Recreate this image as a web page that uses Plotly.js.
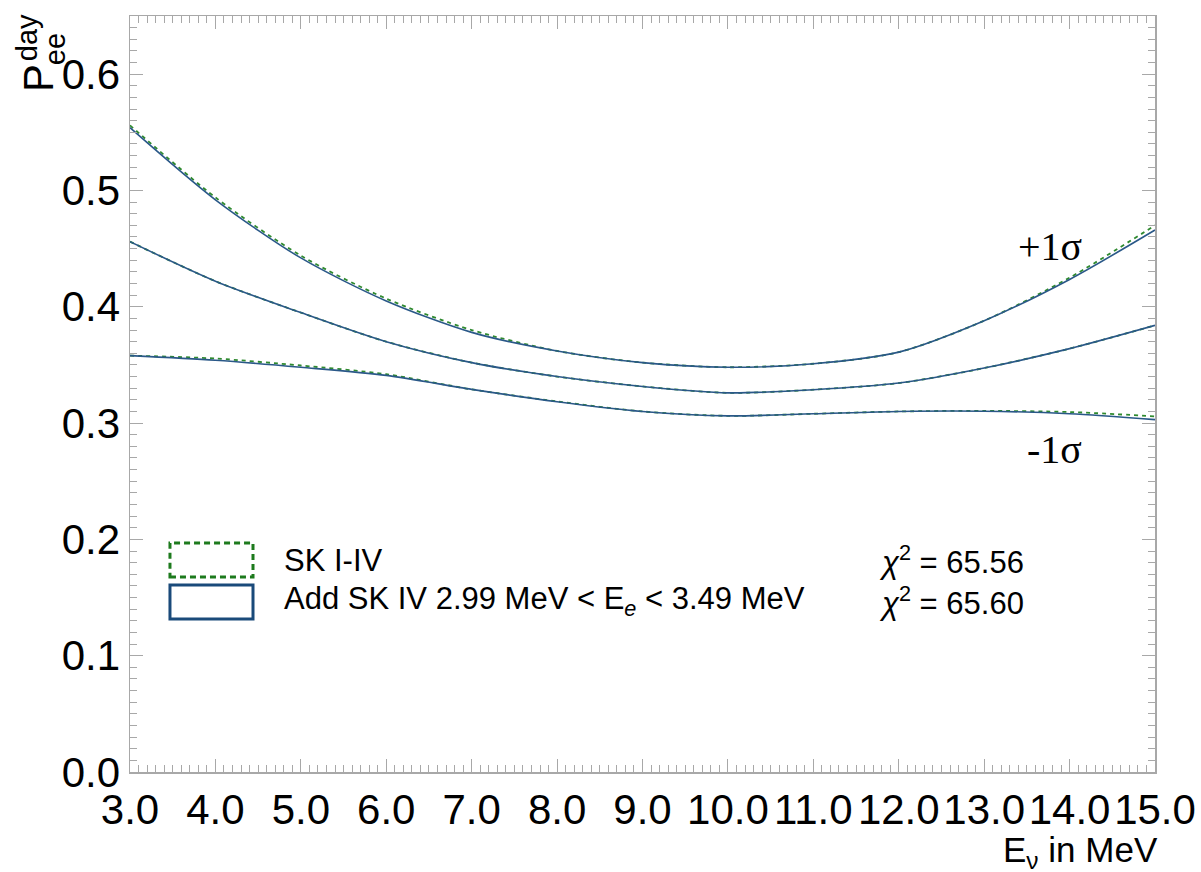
<!DOCTYPE html>
<html>
<head>
<meta charset="utf-8">
<script src="https://cdn.plot.ly/plotly-3.0.1.min.js"></script>
<style>html,body{margin:0;padding:0;background:#fff;}#chart{width:1201px;height:872px;}</style>
</head>
<body>
<div id="chart"></div>
<script>
// Neutrino energy (MeV)
var energies = [3, 4, 5, 6, 7, 8, 9, 10, 11, 12, 13, 14, 15];

// SK I-IV (green dashed)
var skUpper  = [0.556, 0.494, 0.444, 0.407, 0.380, 0.362, 0.352, 0.348, 0.351, 0.361, 0.388, 0.425, 0.470];
var skCenter = [0.456, 0.422, 0.395, 0.370, 0.352, 0.340, 0.3315, 0.326, 0.3287, 0.3344, 0.3473, 0.364, 0.384];
var skLower  = [0.358, 0.3555, 0.3495, 0.342, 0.329, 0.3186, 0.310, 0.3062, 0.308, 0.310, 0.3105, 0.3095, 0.3058];

// Add SK IV 2.99-3.49 MeV (blue solid)
var addUpper  = [0.554, 0.492, 0.442, 0.405, 0.378, 0.362, 0.352, 0.348, 0.351, 0.361, 0.388, 0.4235, 0.466];
var addCenter = [0.456, 0.422, 0.395, 0.370, 0.352, 0.340, 0.3315, 0.326, 0.3287, 0.3344, 0.3473, 0.364, 0.384];
var addLower  = [0.358, 0.354, 0.348, 0.341, 0.329, 0.3184, 0.310, 0.3062, 0.308, 0.310, 0.3102, 0.308, 0.303];

var legendLabels = ["SK I-IV", "Add SK IV 2.99 MeV < E<sub><i>e</i></sub> < 3.49 MeV"];
var chi2Values = ["65.56", "65.60"];

var green = "#2f8a2f";
var blue = "#2a5888";

function tr(y, color, dash, width) {
  return {x: energies, y: y, type: "scatter", mode: "lines",
    line: {color: color, dash: dash, width: width, shape: "spline", smoothing: 0.8},
    showlegend: false, hoverinfo: "skip"};
}

var data = [
  tr(skUpper, green, "4px,4px", 1.8),
  tr(skCenter, green, "4px,4px", 1.8),
  tr(skLower, green, "4px,4px", 1.8),
  tr(addUpper, blue, "solid", 1.6),
  tr(addCenter, blue, "solid", 1.6),
  tr(addLower, blue, "solid", 1.6)
];

var font = "Liberation Sans, Arial, Helvetica, sans-serif";
var serif = "Liberation Serif, Times New Roman, serif";
var axisColor = "#a8a8a8";

var layout = {
  width: 1201, height: 872,
  margin: {l: 130, r: 46, t: 16, b: 100},
  paper_bgcolor: "#ffffff", plot_bgcolor: "#ffffff",
  showlegend: false,
  font: {family: font, color: "#000"},
  xaxis: {
    range: [3, 15], tickmode: "linear", tick0: 3, dtick: 1, tickformat: ".1f",
    tickangle: 0, ticks: "inside", ticklen: 13, tickcolor: axisColor, tickwidth: 1,
    showline: true, linecolor: axisColor, linewidth: 1.5, mirror: "ticks",
    showgrid: false, zeroline: false,
    tickfont: {size: 42, family: font, color: "#000"},
    minor: {dtick: 0.1, ticks: "inside", ticklen: 7, tickcolor: axisColor, showgrid: false}
  },
  yaxis: {
    range: [0, 0.65], tickmode: "linear", tick0: 0, dtick: 0.1, tickformat: ".1f",
    ticks: "inside", ticklen: 13, tickcolor: axisColor, tickwidth: 1,
    showline: true, linecolor: axisColor, linewidth: 1.5, mirror: "ticks",
    showgrid: false, zeroline: false,
    tickfont: {size: 42, family: font, color: "#000"},
    minor: {dtick: 0.01, ticks: "inside", ticklen: 7, tickcolor: axisColor, showgrid: false}
  },
  shapes: [
    {type: "rect", xref: "paper", yref: "paper", x0: 0.039, x1: 0.12, y0: 0.258, y1: 0.303,
     line: {color: "#1d7a1d", width: 3, dash: "6px,4px"}, fillcolor: "rgba(0,0,0,0)"},
    {type: "rect", xref: "paper", yref: "paper", x0: 0.039, x1: 0.12, y0: 0.2024, y1: 0.2474,
     line: {color: "#1a4a7a", width: 3}, fillcolor: "rgba(0,0,0,0)"}
  ],
  annotations: [
    {xref: "paper", yref: "paper", x: 0.148, y: 0.2804, xanchor: "left", yanchor: "middle",
     text: legendLabels[0], showarrow: false, font: {size: 31, family: font}},
    {xref: "paper", yref: "paper", x: 0.148, y: 0.226, xanchor: "left", yanchor: "middle",
     text: legendLabels[1], showarrow: false, font: {size: 31, family: font}},
    {xref: "paper", yref: "paper", x: 0.7288, y: 0.2804, xanchor: "left", yanchor: "middle",
     text: "<i>χ</i><sup>2</sup> = " + chi2Values[0], showarrow: false, font: {size: 31, family: font}},
    {xref: "paper", yref: "paper", x: 0.7288, y: 0.226, xanchor: "left", yanchor: "middle",
     text: "<i>χ</i><sup>2</sup> = " + chi2Values[1], showarrow: false, font: {size: 31, family: font}},
    {xref: "paper", yref: "paper", x: 0.8976, y: 0.695, xanchor: "center", yanchor: "middle",
     text: "+1σ", showarrow: false, font: {size: 40, family: serif}},
    {xref: "paper", yref: "paper", x: 0.9024, y: 0.426, xanchor: "center", yanchor: "middle",
     text: "-1σ", showarrow: false, font: {size: 40, family: serif}},
    {xref: "paper", yref: "paper", x: 1.005, y: -0.074, xanchor: "right", yanchor: "top",
     text: "E<sub>ν</sub> in MeV", showarrow: false, font: {size: 35, family: font}},
    {xref: "paper", yref: "paper", x: -0.0888, y: 0.918, xanchor: "center", yanchor: "middle",
     text: "P", textangle: -90, showarrow: false, font: {size: 42, family: font}},
    {xref: "paper", yref: "paper", x: -0.1005, y: 0.972, xanchor: "center", yanchor: "middle",
     text: "day", textangle: -90, showarrow: false, font: {size: 29, family: font}},
    {xref: "paper", yref: "paper", x: -0.0732, y: 0.956, xanchor: "center", yanchor: "middle",
     text: "ee", textangle: -90, showarrow: false, font: {size: 29, family: font}}
  ]
};

Plotly.newPlot("chart", data, layout, {displayModeBar: false, staticPlot: true});
</script>
</body>
</html>
